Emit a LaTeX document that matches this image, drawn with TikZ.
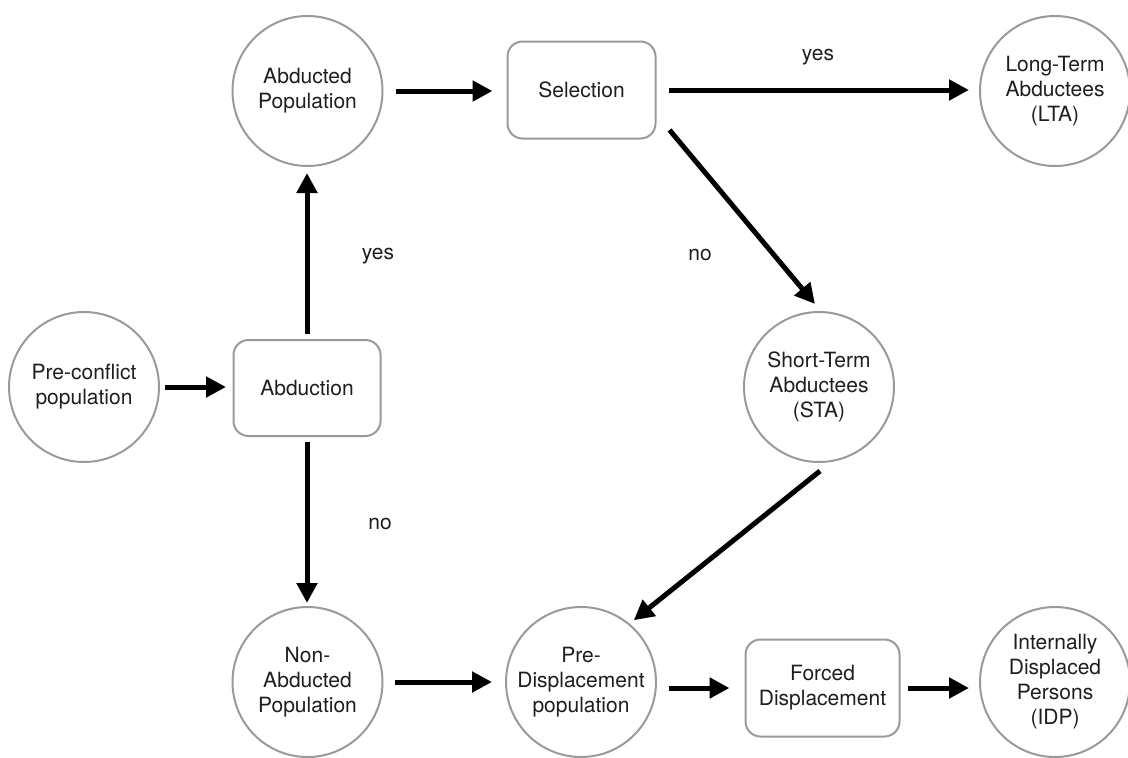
\documentclass[tikz,border=0pt]{standalone}
\usepackage{fontspec}
\setmainfont{TeX Gyre Heros}
\usetikzlibrary{arrows.meta,calc}
\definecolor{bordergray}{HTML}{9A9A9A}
\definecolor{textcol}{HTML}{1E1E1E}
\begin{document}
\begin{tikzpicture}[x=1pt,y=-1pt,
  txt/.style={font=\fontsize{21}{25}\selectfont, text=textcol},
  circ/.style={txt, circle, draw=bordergray, line width=2pt, minimum size=150pt, inner sep=0pt, align=center},
  rbox/.style={txt, rectangle, rounded corners=15pt, draw=bordergray, line width=2pt, inner sep=0pt, align=center},
  arr/.style={line width=5pt, -{Triangle[length=20pt,width=20pt]}},
  lbl/.style={txt}]
\useasboundingbox[fill=white] (0,0) rectangle (1128,758);

% nodes
\node[circ] (ab) at (307.5,91) {Abducted\\Population};
\node[rbox, minimum width=148pt, minimum height=97pt] (sel) at (581.5,90) {Selection};
\node[circ] (lta) at (1055,91) {Long-Term\\Abductees\\(LTA)};
\node[circ] (pc) at (84,387) {Pre-conflict\\population};
\node[rbox, minimum width=147pt, minimum height=96pt] (abd) at (307,388) {Abduction};
\node[circ] (sta) at (819,387) {Short-Term\\Abductees\\(STA)};
\node[circ] (na) at (307.5,682) {Non-\\Abducted\\Population};
\node[circ] (pd) at (581,682) {Pre-\\Displacement\\population};
\node[rbox, minimum width=154pt, minimum height=97pt] (fd) at (822.5,688) {Forced\\Displacement};
\node[circ] (idp) at (1055,682) {Internally\\Displaced\\Persons\\(IDP)};

% labels
\node[lbl] (yes1) at (818,57) {yes};
\node[lbl] (yes2) at (378,256) {yes};
\node[lbl] (no1) at (700,255) {no};
\node[lbl] (no2) at (380,524) {no};

% connectors
\draw[arr, shorten <=12pt, shorten >=14pt] (ab.east) -- (ab.east -| sel.west);
\draw[arr, shorten <=12.5pt, shorten >=10pt] (sel.east) -- (sel.east -| lta.west);
\draw[arr, shorten <=5pt, shorten >=6.5pt] (pc.east) -- (pc.east -| abd.west);
\draw[arr, shorten <=5.5pt, shorten >=6pt] (abd.north) -- (abd.north |- ab.south);
\draw[arr, shorten <=4.5pt, shorten >=3pt] (abd.south) -- (abd.south |- na.north);
\draw[arr] ([xshift=13pt,yshift=9.5pt]sel.south east) -- ([xshift=-4pt,yshift=7pt]sta.north);
\draw[arr] ([xshift=1pt,yshift=-8pt]sta.south) -- ([xshift=-1pt,yshift=8pt]pd.45);
\draw[arr, shorten <=11.5pt, shorten >=13pt] (na.east) -- (na.east -| pd.west);
\draw[arr, shorten <=12pt, shorten >=15pt] (pd.east |- fd.west) -- (fd.west);
\draw[arr, shorten <=7pt, shorten >=10pt] (fd.east) -- (fd.east -| idp.west);
\end{tikzpicture}
\end{document}
